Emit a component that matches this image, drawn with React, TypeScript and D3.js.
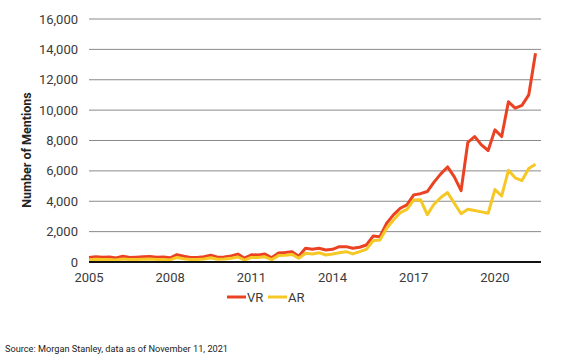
import * as d3 from 'd3'

// quarterly mentions, 2005 Q1 .. 2021 Q3
const vr = [
  300, 350, 320, 330, 260, 380, 300, 320, 340, 360, 320, 330, 280, 480, 380, 300,
  300, 350, 450, 320, 330, 400, 520, 250, 480, 460, 520, 280, 600, 620, 680, 380,
  900, 835, 900, 790, 835, 1010, 1010, 900, 970, 1120, 1710, 1670, 2550, 3100, 3540, 3760,
  4420, 4500, 4640, 5260, 5800, 6260, 5600, 4700, 7880, 8260, 7710, 7340, 8700, 8260, 10550,
  10130, 10310, 11000, 13750,
]
const ar = [
  150, 180, 170, 170, 130, 200, 160, 170, 180, 190, 170, 170, 140, 300, 220, 160,
  170, 200, 280, 180, 190, 240, 330, 120, 300, 290, 340, 150, 420, 450, 500, 250,
  570, 530, 615, 460, 530, 615, 680, 530, 680, 835, 1400, 1450, 2220, 2770, 3250, 3470,
  4090, 4100, 3120, 3800, 4250, 4570, 3870, 3180, 3470, 3390, 3300, 3210, 4770, 4350, 6040,
  5540, 5360, 6160, 6440,
]
const yTicks = [0, 2000, 4000, 6000, 8000, 10000, 12000, 14000, 16000]
const xLabels = ['2005', '2008', '2011', '2014', '2017', '2020']
const xLabelIdx = [0, 12, 24, 36, 48, 60]

const series = [
  { name: 'VR', values: vr, color: '#EA4222' },
  { name: 'AR', values: ar, color: '#F6C826' },
]

export default function App() {
  const width = 565
  const height = 361
  const x = d3.scaleLinear().domain([0, vr.length - 1]).range([89, 535.5])
  const y = d3.scaleLinear().domain([0, 16000]).range([262, 19])
  const line = d3
    .line<number>()
    .x((_, i) => x(i))
    .y((d) => y(d))
  const font = 'Roboto, "Noto Sans", sans-serif'

  return (
    <svg
      width={width}
      height={height}
      style={{ position: 'fixed', left: 0, top: 0, background: '#fff' }}
    >
      {yTicks.map((t) => (
        <g key={t}>
          {t > 0 && (
            <line x1={89} x2={541} y1={y(t)} y2={y(t)} stroke="#8a8a8a" strokeWidth={1} />
          )}
          <text
            x={78}
            y={y(t)}
            dy="0.35em"
            textAnchor="end"
            fontFamily={font}
            fontSize={13}
            fill="#3a3a3a"
          >
            {d3.format(',')(t)}
          </text>
        </g>
      ))}
      <text
        transform="translate(27,150) rotate(-90)"
        textAnchor="middle"
        dy="0.35em"
        fontFamily={font}
        fontWeight="bold"
        fontSize={12.5}
        fill="#222"
      >
        Number of Mentions
      </text>
      {xLabels.map((l, i) => (
        <text
          key={l}
          x={x(xLabelIdx[i])}
          y={277}
          dy="0.35em"
          textAnchor="middle"
          fontFamily={font}
          fontSize={13}
          fill="#3a3a3a"
        >
          {l}
        </text>
      ))}
      {series.map((s) => (
        <path
          key={s.name}
          d={line(s.values) ?? ''}
          fill="none"
          stroke={s.color}
          strokeWidth={3}
          strokeLinejoin="round"
        />
      ))}
      <line x1={89} x2={541} y1={y(0)} y2={y(0)} stroke="#111" strokeWidth={2} />
      {series.map((s, i) => (
        <g key={s.name} transform={`translate(${227 + i * 41},297)`}>
          <line x1={0} x2={19} y1={0} y2={0} stroke={s.color} strokeWidth={3} />
          <text x={20} dy="0.35em" fontFamily={font} fontSize={13} fill="#3a3a3a">
            {s.name}
          </text>
        </g>
      ))}
      <text x={5} y={349} dy="0.35em" fontFamily={font} fontSize={9.2} fill="#222">
        Source: Morgan Stanley, data as of November 11, 2021
      </text>
    </svg>
  )
}
